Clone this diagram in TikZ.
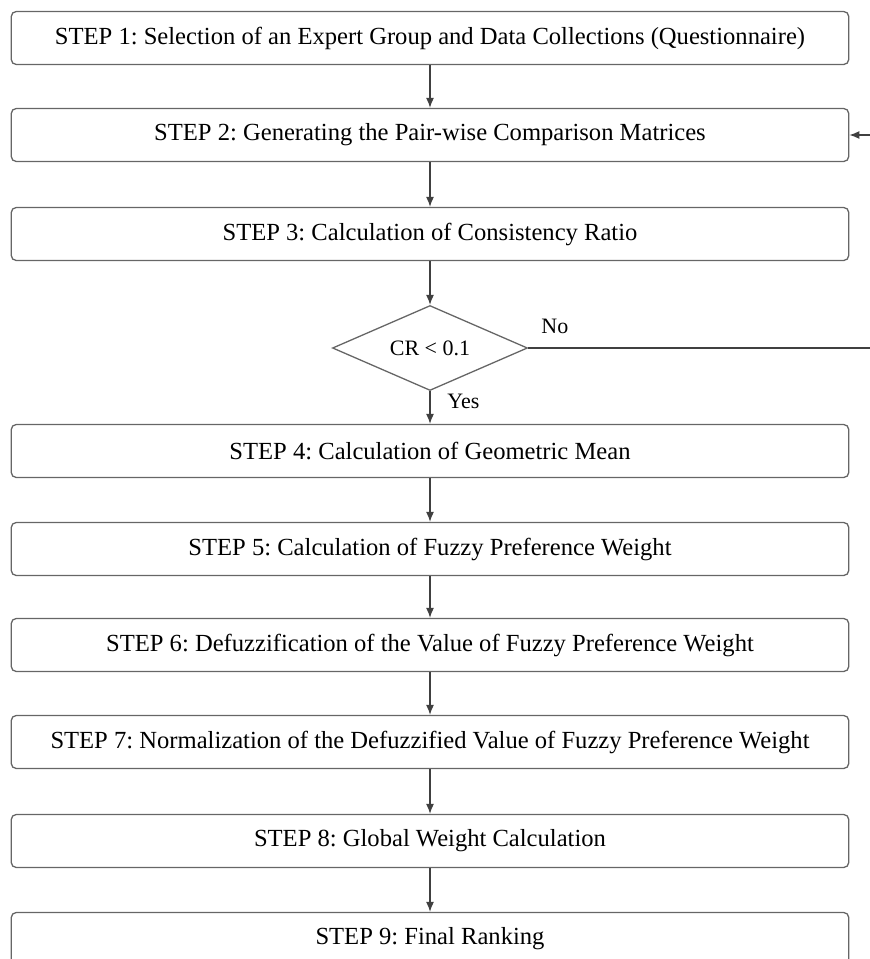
\documentclass[tikz,border=0pt]{standalone}
\usepackage{fontspec}
\setmainfont{Liberation Serif}
\usetikzlibrary{arrows.meta,positioning,shapes.geometric}
\frenchspacing

\begin{document}
\begin{tikzpicture}[
  x=0.5pt, y=-0.5pt,
  every node/.style={inner sep=1.5pt},
  stepbox/.style={draw=black!60, line width=0.65pt, rounded corners=2.5pt,
                  minimum width=418.75pt, minimum height=26.5pt,
                  font=\fontsize{12.3}{14}\selectfont},
  crdiam/.style ={draw=black!60, line width=0.65pt, diamond, aspect=2.3,
                  minimum width=97.5pt, minimum height=42.5pt, inner sep=0pt,
                  font=\fontsize{11}{13}\selectfont},
  lbl/.style    ={font=\fontsize{11}{13}\selectfont},
  ar/.style     ={-{Latex[length=5pt,width=4pt]}, draw=black!75, line width=0.6pt}]

\useasboundingbox (0,0) rectangle (870,959);

% ------------------------------ steps ---------------------------------
\node[stepbox] (st1) at (430,38)
  {STEP 1: Selection of an Expert Group and Data Collections (Questionnaire)};
\node[stepbox] (st2) at (430,135) {STEP 2: Generating the Pair-wise Comparison Matrices};
\node[stepbox] (st3) at (430,234) {STEP 3: Calculation of Consistency Ratio};

\node[crdiam] (cr) at (430,348) {CR < 0.1};
\node[lbl, anchor=south west] (no) at (538,337) {No};
\node[lbl, anchor=west] (yes) at (444,401) {Yes};

\node[stepbox] (st4) at (430,451) {STEP 4: Calculation of Geometric Mean};
\node[stepbox] (st5) at (430,549) {STEP 5: Calculation of Fuzzy Preference Weight};
\node[stepbox] (st6) at (430,645) {STEP 6: Defuzzification of the Value of Fuzzy Preference Weight};
\node[stepbox] (st7) at (430,742)
  {STEP 7: Normalization of the Defuzzified Value of Fuzzy Preference Weight};
\node[stepbox] (st8) at (430,841) {STEP 8: Global Weight Calculation};
\node[stepbox] (st9) at (430,939) {STEP 9: Final Ranking};

% ----------------------------- arrows ---------------------------------
\draw[ar] (st1) -- (st2);
\draw[ar] (st2) -- (st3);
\draw[ar] (st3) -- (cr);
\draw[ar] (cr) -- (st4);
\foreach \a/\b in {st4/st5,st5/st6,st6/st7,st7/st8,st8/st9}
  \draw[ar] (\a) -- (\b);

% back to step 2 when the ratio is too large
\coordinate (loop) at (880,348);
\draw[ar] (cr.east) -- (loop) |- (st2.east);

\end{tikzpicture}
\end{document}
